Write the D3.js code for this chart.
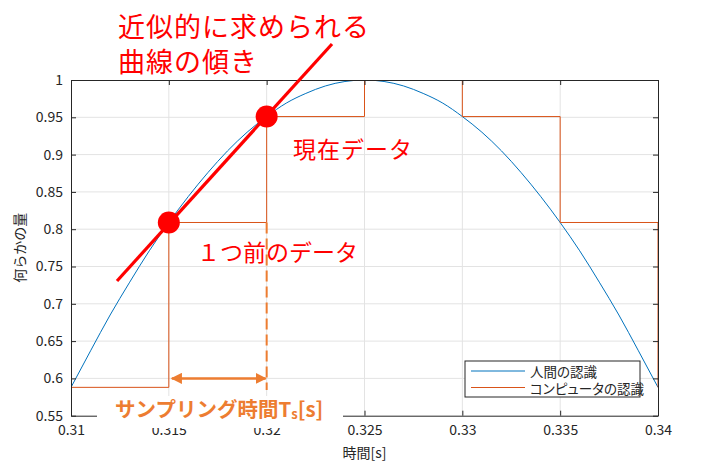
<!DOCTYPE html>
<html>
<head>
<meta charset="utf-8">
<script src="https://cdn.jsdelivr.net/npm/d3@7"></script>
<style>
  body { margin: 0; background: #fff; }
  text { font-family: "Noto Sans CJK JP", "Noto Sans", sans-serif; }
  .tick-text { font-size: 14px; fill: #262626; }
  .legend-text { font-feature-settings: "palt"; }
</style>
</head>
<body>
<svg id="chart" width="706" height="474"></svg>
<script>
// blue curve, read every 0.001 s
var curveT = [0.310, 0.311, 0.312, 0.313, 0.314, 0.315, 0.316, 0.317, 0.318, 0.319, 0.320,
              0.321, 0.322, 0.323, 0.324, 0.325, 0.326, 0.327, 0.328, 0.329, 0.330,
              0.331, 0.332, 0.333, 0.334, 0.335, 0.336, 0.337, 0.338, 0.339, 0.340];
var curveV = [0.588, 0.637, 0.685, 0.729, 0.771, 0.809, 0.844, 0.876, 0.905, 0.930, 0.951,
              0.969, 0.982, 0.992, 0.998, 1.000, 0.998, 0.992, 0.982, 0.969, 0.951,
              0.930, 0.905, 0.876, 0.844, 0.809, 0.771, 0.729, 0.685, 0.637, 0.588];

// sampled (stairs) series
var sampleT = [0.305, 0.310, 0.315, 0.320, 0.325, 0.330, 0.335, 0.340, 0.345];
var sampleV = [0.309, 0.588, 0.809, 0.951, 1.000, 0.951, 0.809, 0.588, 0.309];

var xTicks = [0.31, 0.315, 0.32, 0.325, 0.33, 0.335, 0.34];
var yTicks = [0.55, 0.6, 0.65, 0.7, 0.75, 0.8, 0.85, 0.9, 0.95, 1];

var legendLabels = ['人間の認識', 'コンピュータの認識'];
var legendColors = ['#0072BD', '#D95319'];

// annotations (data coordinates)
var slopeLine = [[0.31235, 0.7306], [0.32334, 1.0483]];
var markedT = [0.315, 0.320];
var markedV = [0.809, 0.951];
var spanT = [0.315, 0.320];

var blue = '#0072BD', orange = '#D95319', accent = '#ED7D31', red = '#FF0000';

var svg = d3.select('#chart');
var mLeft = 71, mRight = 658, mTop = 80, mBottom = 415.7;

var x = d3.scaleLinear().domain([0.31, 0.34]).range([mLeft, mRight]);
var y = d3.scaleLinear().domain([0.55, 1]).range([mBottom, mTop]);

svg.append('defs').call(function(defs) {
    defs.append('clipPath').attr('id', 'plot-clip')
        .append('rect')
        .attr('x', mLeft).attr('y', mTop)
        .attr('width', mRight - mLeft).attr('height', mBottom - mTop);

    defs.append('marker')
        .attr('id', 'arrow')
        .attr('viewBox', '0 0 10 10')
        .attr('refX', 9).attr('refY', 5)
        .attr('markerWidth', 4.5).attr('markerHeight', 4.5)
        .attr('markerUnits', 'strokeWidth')
        .attr('orient', 'auto-start-reverse')
        .append('path')
        .attr('d', 'M0,0 L10,5 L0,10 z')
        .attr('fill', accent);
});

//grid
svg.append('g')
    .selectAll('line')
    .data(xTicks.slice(1, -1))
    .join('line')
    .attr('x1', function(d) { return x(d); })
    .attr('x2', function(d) { return x(d); })
    .attr('y1', mTop).attr('y2', mBottom)
    .attr('stroke', '#e3e3e3').attr('stroke-width', 1);

svg.append('g')
    .selectAll('line')
    .data(yTicks.slice(1, -1))
    .join('line')
    .attr('y1', function(d) { return y(d); })
    .attr('y2', function(d) { return y(d); })
    .attr('x1', mLeft).attr('x2', mRight)
    .attr('stroke', '#e3e3e3').attr('stroke-width', 1);

//series
var plot = svg.append('g').attr('clip-path', 'url(#plot-clip)');

var curveData = curveT.map(function(t, i) { return [t, curveV[i]]; });
var sampleData = sampleT.map(function(t, i) { return [t, sampleV[i]]; });

plot.append('path')
    .datum(curveData)
    .attr('fill', 'none')
    .attr('stroke', blue)
    .attr('stroke-width', 1)
    .attr('d', d3.line()
        .x(function(d) { return x(d[0]); })
        .y(function(d) { return y(d[1]); })
        .curve(d3.curveMonotoneX));

plot.append('path')
    .datum(sampleData)
    .attr('fill', 'none')
    .attr('stroke', orange)
    .attr('stroke-width', 1)
    .attr('d', d3.line()
        .x(function(d) { return x(d[0]); })
        .y(function(d) { return y(d[1]); })
        .curve(d3.curveStepAfter));

//axes box + ticks
var xAxisB = d3.axisBottom(x).tickValues(xTicks).tickSizeInner(-5).tickSizeOuter(0)
    .tickPadding(9).tickFormat(d3.format('~g'));
var xAxisT = d3.axisTop(x).tickValues(xTicks).tickSizeInner(-5).tickSizeOuter(0).tickFormat('');
var yAxisL = d3.axisLeft(y).tickValues(yTicks).tickSizeInner(-5).tickSizeOuter(0)
    .tickPadding(8).tickFormat(d3.format('~g'));
var yAxisR = d3.axisRight(y).tickValues(yTicks).tickSizeInner(-5).tickSizeOuter(0).tickFormat('');

[
    [xAxisB, 'translate(0,' + mBottom + ')'],
    [xAxisT, 'translate(0,' + mTop + ')'],
    [yAxisL, 'translate(' + mLeft + ',0)'],
    [yAxisR, 'translate(' + mRight + ',0)']
].forEach(function(a) {
    svg.append('g')
        .attr('transform', a[1])
        .call(a[0])
        .call(function(g) {
            g.select('.domain').attr('stroke', '#262626');
            g.selectAll('.tick line').attr('stroke', '#262626');
            g.selectAll('.tick text').attr('class', 'tick-text')
                .style('font-family', '"Noto Sans CJK JP", sans-serif');
        });
});

//axis labels
svg.append('text')
    .attr('x', (mLeft + mRight) / 2)
    .attr('y', 452)
    .attr('text-anchor', 'middle')
    .attr('dominant-baseline', 'central')
    .attr('font-size', 14)
    .attr('fill', '#262626')
    .text('時間[s]');

svg.append('text')
    .attr('transform', 'translate(19,' + ((mTop + mBottom) / 2) + ') rotate(-90)')
    .attr('text-anchor', 'middle')
    .attr('dominant-baseline', 'central')
    .attr('font-size', 14)
    .attr('fill', '#262626')
    .text('何らかの量');

//legend
svg.append('g')
    .attr('transform', 'translate(465,361)')
    .call(function(lg) {
        lg.append('rect')
            .attr('width', 175).attr('height', 36)
            .attr('fill', '#fff')
            .attr('stroke', '#262626').attr('stroke-width', 1);

        legendLabels.forEach(function(label, i) {
            var item = lg.append('g').attr('transform', 'translate(0,' + (10 + i * 16.5) + ')');
            item.append('line')
                .attr('x1', 6).attr('x2', 60)
                .attr('stroke', legendColors[i])
                .attr('stroke-width', 1);
            item.append('text')
                .attr('class', 'legend-text')
                .attr('x', 65)
                .attr('dominant-baseline', 'central')
                .attr('font-size', 13.5)
                .attr('fill', '#262626')
                .text(label);
        });
    });

//annotations
svg.append('line')
    .attr('x1', x(spanT[1])).attr('x2', x(spanT[1]))
    .attr('y1', y(markedV[0])).attr('y2', y(0.5845))
    .attr('stroke', accent).attr('stroke-width', 2)
    .attr('stroke-dasharray', '11,5');

svg.append('line')
    .attr('x1', x(spanT[0]) + 3).attr('x2', x(spanT[1]) - 1)
    .attr('y1', y(0.6)).attr('y2', y(0.6))
    .attr('stroke', accent).attr('stroke-width', 2.5)
    .attr('marker-start', 'url(#arrow)')
    .attr('marker-end', 'url(#arrow)');

svg.append('line')
    .attr('x1', x(slopeLine[0][0])).attr('y1', y(slopeLine[0][1]))
    .attr('x2', x(slopeLine[1][0])).attr('y2', y(slopeLine[1][1]))
    .attr('stroke', red).attr('stroke-width', 3.2);

svg.append('g')
    .selectAll('circle')
    .data(markedT)
    .join('circle')
    .attr('cx', function(d) { return x(d); })
    .attr('cy', function(d, i) { return y(markedV[i]); })
    .attr('r', 11)
    .attr('fill', red);

//orange label with white backing
svg.append('rect')
    .attr('x', 97).attr('y', 396)
    .attr('width', 246).attr('height', 32)
    .attr('fill', '#fff');

svg.append('text')
    .attr('x', 115).attr('y', 408)
    .attr('dominant-baseline', 'central')
    .attr('font-size', 20.5)
    .attr('font-weight', 'bold')
    .attr('fill', accent)
    .call(function(t) {
        t.append('tspan').text('サンプリング時間T');
        t.append('tspan').attr('font-size', 13).attr('dy', 5).text('s');
        t.append('tspan').attr('dy', -5).text('[s]');
    });

//red notes
svg.append('g')
    .attr('fill', red)
    .call(function(g) {
        g.append('text').attr('x', 118).attr('y', 25).attr('font-size', 27)
            .attr('letter-spacing', 1)
            .attr('dominant-baseline', 'central').text('近似的に求められる');
        g.append('text').attr('x', 118).attr('y', 60).attr('font-size', 27)
            .attr('letter-spacing', 1)
            .attr('dominant-baseline', 'central').text('曲線の傾き');
        g.append('text').attr('x', 293).attr('y', 148).attr('font-size', 23)
            .attr('letter-spacing', 1)
            .attr('dominant-baseline', 'central').text('現在データ');
        g.append('text').attr('x', 197).attr('y', 251).attr('font-size', 23)
            .attr('dominant-baseline', 'central').text('１つ前のデータ');
    });
</script>
</body>
</html>
